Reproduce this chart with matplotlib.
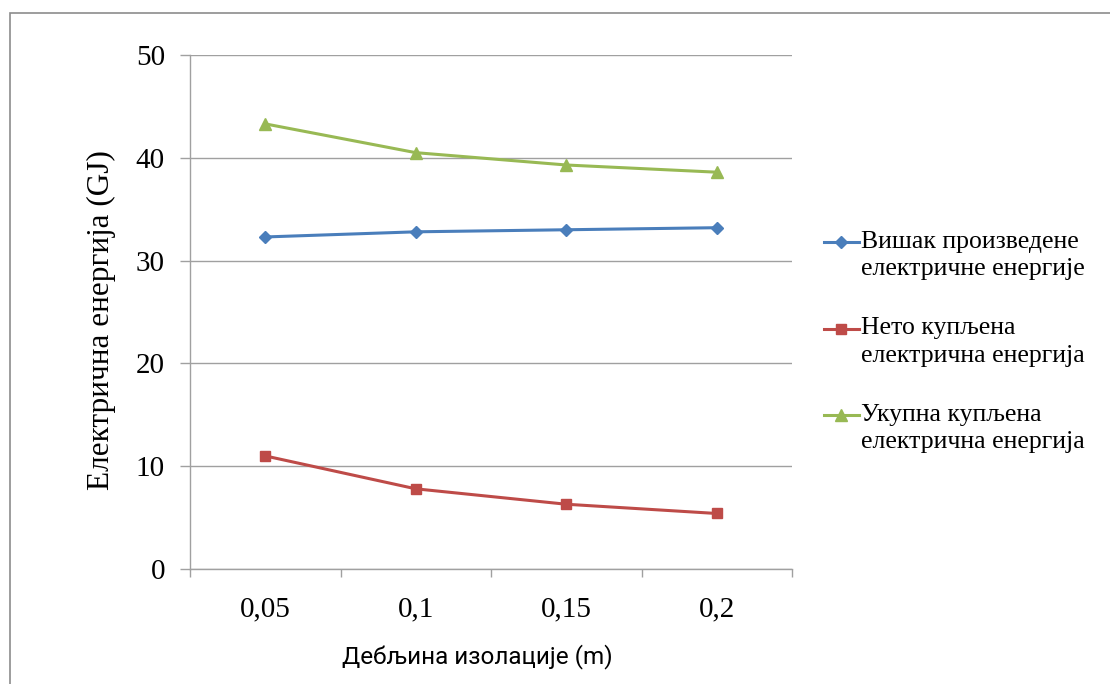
import matplotlib
matplotlib.use("Agg")
import matplotlib.pyplot as plt
from matplotlib.patches import Rectangle
from matplotlib.legend_handler import HandlerLine2D
from matplotlib.transforms import Affine2D

categories = ["0,05", "0,1", "0,15", "0,2"]
surplus = [32.3, 32.8, 33.0, 33.2]
net_bought = [11.0, 7.8, 6.3, 5.4]
total_bought = [43.3, 40.5, 39.3, 38.6]
labels = ["Вишак произведене\nелектричне енергије",
          "Нето купљена\nелектрична енергија",
          "Укупна купљена\nелектрична енергија"]
y_ticks = [0, 10, 20, 30, 40, 50]

serif = ["Liberation Serif", "DejaVu Serif"]
sans = ["Roboto", "DejaVu Sans"]

fig = plt.figure(figsize=(11.1, 6.84), dpi=100)
ax = fig.add_axes([190/1110, 1-569/684, 602/1110, 514/684])

x = list(range(len(categories)))
ax.plot(x, surplus, color="#4A7EBB", lw=2.2, marker="D", ms=6.5, label=labels[0])
ax.plot(x, net_bought, color="#BE4B48", lw=2.2, marker="s", ms=7.5, label=labels[1])
ax.plot(x, total_bought, color="#98B954", lw=2.2, marker="^", ms=8.5, label=labels[2])

ax.set_xlim(-0.5, len(categories) - 0.5)
ax.set_ylim(0, 50)
ax.set_yticks(y_ticks)
ax.set_yticklabels([str(v) for v in y_ticks], fontfamily=serif, fontsize=21)
ax.set_xticks(x)
ax.set_xticklabels(categories, fontfamily=serif, fontsize=21)
ax.set_xticks([i - 0.5 for i in range(len(categories) + 1)], minor=True)
ax.tick_params(axis="x", which="major", length=0, pad=20)
ax.tick_params(axis="x", which="minor", length=6, color="#A0A0A0", width=1)
ax.tick_params(axis="y", length=7, color="#A0A0A0", width=1, pad=11)
ax.yaxis.grid(True, color="#A0A0A0", lw=1)
ax.set_axisbelow(True)
for s in ["top", "right"]:
    ax.spines[s].set_visible(False)
for s in ["left", "bottom"]:
    ax.spines[s].set_color("#A0A0A0")
    ax.spines[s].set_linewidth(1)

ax.set_ylabel("Електрична енергија (GJ)", fontfamily=serif, fontsize=22.5, labelpad=14)
ax.yaxis.label.set_y(0.485)
ax.set_xlabel("Дебљина изолације (m)", fontfamily=sans, fontsize=17.5, labelpad=15)
ax.xaxis.label.set_x(0.477)


class FirstLineHandler(HandlerLine2D):
    def create_artists(self, legend, orig_handle, xdescent, ydescent, width, height, fontsize, trans):
        arts = super().create_artists(legend, orig_handle, xdescent, ydescent, width, height, fontsize, trans)
        shift = Affine2D().translate(0, 0.5 * fontsize * fig.dpi / 72)
        for a in arts:
            a.set_transform(a.get_transform() + shift)
        return arts


leg = ax.legend(loc="center left", bbox_to_anchor=(806/1110, 1-342/684), bbox_transform=fig.transFigure,
                frameon=False, prop={"family": serif, "size": 18.5}, handlelength=1.35,
                handletextpad=0.1, labelspacing=1.45, borderpad=0.2,
                handler_map={plt.Line2D: FirstLineHandler()})
for t in leg.get_texts():
    t.set_linespacing(1.3)

fig.add_artist(Rectangle((10/1110, -0.1), 2, 1 - 13/684 + 0.1, transform=fig.transFigure,
                         fill=False, edgecolor="#8C8C8C", lw=1.2))

fig.savefig("out.png", dpi=100)
